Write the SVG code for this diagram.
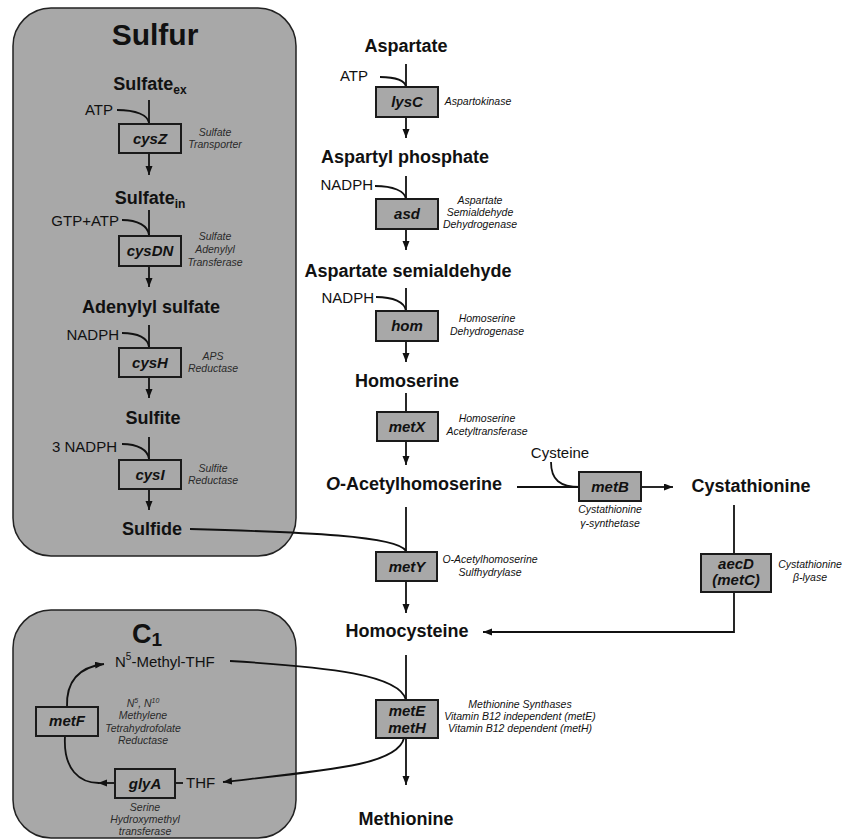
<svg xmlns="http://www.w3.org/2000/svg" width="842" height="840" viewBox="0 0 842 840">
<defs>
<marker id="ah" markerUnits="userSpaceOnUse" markerWidth="10" markerHeight="8" refX="9" refY="3.5" orient="auto">
<path d="M0,0 L9,3.5 L0,7 z" fill="#111"/>
</marker>
<style>
text{font-family:"Liberation Sans",Arial,sans-serif;fill:#111}
.node{font-weight:bold;font-size:18px;text-anchor:middle}
.gene{font-weight:bold;font-style:italic;font-size:15px;text-anchor:middle}
.enz{font-style:italic;font-size:10.5px;text-anchor:middle}
.enzs{font-style:italic;font-size:10.5px;text-anchor:middle;fill:#2a2a2a}
.cof{font-size:15px}
.box{fill:#a8a8a8;stroke:#1a1a1a;stroke-width:2}
.panel{fill:#a8a8a8;stroke:#222;stroke-width:1.5}
.ln{fill:none;stroke:#111;stroke-width:1.8}
.ar{fill:none;stroke:#111;stroke-width:1.8;marker-end:url(#ah)}
</style>
</defs>
<rect width="842" height="840" fill="#fff"/>

<g id="sulfur-panel">
<rect class="panel" x="13" y="8" width="283" height="548" rx="38"/>
<text x="155" y="45" style="font-weight:bold;font-size:30px;text-anchor:middle">Sulfur</text>
</g>
<g id="c1-panel">
<rect class="panel" x="13" y="610" width="283" height="228" rx="38"/>
<text x="147" y="643" style="font-weight:bold;font-size:27px;text-anchor:middle">C<tspan font-size="19" dy="3">1</tspan></text>
</g>

<g id="connectors">
<!-- sulfur column -->
<path class="ln" d="M149 100 V124"/>
<path class="ln" d="M117 110 C136 110 148 115 149 123"/>
<path class="ar" d="M149 153 V175"/>
<path class="ln" d="M149 210 V236"/>
<path class="ln" d="M122 220 C138 220 148 226 149 235"/>
<path class="ar" d="M149 266 V287"/>
<path class="ln" d="M149 325 V348"/>
<path class="ln" d="M122 333 C138 333 148 338 149 347"/>
<path class="ar" d="M149 377 V398"/>
<path class="ln" d="M149 437 V460"/>
<path class="ln" d="M122 444 C138 444 148 450 149 459"/>
<path class="ar" d="M149 489 V510"/>
<path class="ln" d="M190 529 C305 532 398 536 406 551"/>
<!-- main column -->
<path class="ln" d="M406 64 V87"/>
<path class="ln" d="M380 77 C396 77 405 81 406 87"/>
<path class="ar" d="M406 117 V138"/>
<path class="ln" d="M406 176 V199"/>
<path class="ln" d="M375 186 C393 186 405 191 406 199"/>
<path class="ar" d="M406 229 V250"/>
<path class="ln" d="M406 288 V311"/>
<path class="ln" d="M376 297 C393 297 405 302 406 311"/>
<path class="ar" d="M406 341 V362"/>
<path class="ln" d="M406 393 V412"/>
<path class="ar" d="M406 441 V465"/>
<path class="ln" d="M517 487 H580"/>
<path class="ln" d="M551 462 C551 480 560 487 580 487"/>
<path class="ar" d="M641 487 H673"/>
<path class="ln" d="M734 505 V554"/>
<path class="ar" d="M734 592 V632 H483"/>
<path class="ln" d="M406 507 V552"/>
<path class="ar" d="M406 581 V613"/>
<path class="ln" d="M406 655 V700"/>
<path class="ar" d="M406 738 V785"/>
<path class="ln" d="M230 661 C330 667 400 675 406 700"/>
<path class="ar" d="M404 738 C398 765 330 770 223 782"/>
<!-- C1 cycle -->
<path class="ar" d="M67 707 C66 680 80 667 104 664"/>
<path class="ln" d="M65 736 C63 770 80 783 99 783"/>
<path class="ar" d="M115 783 H98"/>
<path class="ln" d="M175 783 H183"/>
</g>

<g id="sulfate-ex"><text class="node" x="150" y="90">Sulfate<tspan font-size="12" dy="4">ex</tspan></text></g>
<g id="atp-1"><text class="cof" x="113" y="115" text-anchor="end">ATP</text></g>
<g id="cysZ"><rect class="box" x="119" y="124" width="62" height="29"/><text class="gene" x="150" y="144">cysZ</text>
<text class="enzs" x="215" y="136">Sulfate</text><text class="enzs" x="215" y="148">Transporter</text></g>
<g id="sulfate-in"><text class="node" x="150" y="204">Sulfate<tspan font-size="12" dy="4">in</tspan></text></g>
<g id="gtp-atp"><text class="cof" x="119" y="226" text-anchor="end">GTP+ATP</text></g>
<g id="cysDN"><rect class="box" x="119" y="236" width="62" height="30"/><text class="gene" x="150" y="256">cysDN</text>
<text class="enzs" x="215" y="240">Sulfate</text><text class="enzs" x="215" y="253">Adenylyl</text><text class="enzs" x="215" y="266">Transferase</text></g>
<g id="adenylyl-sulfate"><text class="node" x="151" y="313">Adenylyl sulfate</text></g>
<g id="nadph-s"><text class="cof" x="119" y="340" text-anchor="end">NADPH</text></g>
<g id="cysH"><rect class="box" x="119" y="348" width="62" height="29"/><text class="gene" x="150" y="368">cysH</text>
<text class="enzs" x="213" y="360">APS</text><text class="enzs" x="213" y="372">Reductase</text></g>
<g id="sulfite"><text class="node" x="153" y="424">Sulfite</text></g>
<g id="nadph3"><text class="cof" x="117" y="452" text-anchor="end">3 NADPH</text></g>
<g id="cysI"><rect class="box" x="119" y="460" width="62" height="29"/><text class="gene" x="150" y="480">cysI</text>
<text class="enzs" x="213" y="472">Sulfite</text><text class="enzs" x="213" y="484">Reductase</text></g>
<g id="sulfide"><text class="node" x="152" y="535">Sulfide</text></g>

<g id="aspartate"><text class="node" x="406" y="52">Aspartate</text></g>
<g id="atp-2"><text class="cof" x="368" y="81" text-anchor="end">ATP</text></g>
<g id="lysC"><rect class="box" x="376" y="87" width="62" height="30"/><text class="gene" x="407" y="107">lysC</text>
<text class="enz" x="478" y="105">Aspartokinase</text></g>
<g id="aspartyl-phosphate"><text class="node" x="405" y="163">Aspartyl phosphate</text></g>
<g id="nadph-1"><text class="cof" x="373" y="190" text-anchor="end">NADPH</text></g>
<g id="asd"><rect class="box" x="376" y="199" width="62" height="30"/><text class="gene" x="407" y="219">asd</text>
<text class="enz" x="480" y="204">Aspartate</text><text class="enz" x="480" y="216">Semialdehyde</text><text class="enz" x="480" y="228">Dehydrogenase</text></g>
<g id="aspartate-semialdehyde"><text class="node" x="408" y="277">Aspartate semialdehyde</text></g>
<g id="nadph-2"><text class="cof" x="374" y="303" text-anchor="end">NADPH</text></g>
<g id="hom"><rect class="box" x="376" y="311" width="62" height="30"/><text class="gene" x="407" y="331">hom</text>
<text class="enz" x="487" y="322">Homoserine</text><text class="enz" x="487" y="335">Dehydrogenase</text></g>
<g id="homoserine"><text class="node" x="407" y="387">Homoserine</text></g>
<g id="metX"><rect class="box" x="377" y="412" width="61" height="29"/><text class="gene" x="407" y="432">metX</text>
<text class="enz" x="487" y="422">Homoserine</text><text class="enz" x="487" y="435">Acetyltransferase</text></g>
<g id="o-acetylhomoserine"><text class="node" x="414" y="490"><tspan font-style="italic">O</tspan>-Acetylhomoserine</text></g>
<g id="cysteine"><text class="cof" x="560" y="458" text-anchor="middle">Cysteine</text></g>
<g id="metB"><rect class="box" x="579" y="472" width="62" height="29"/><text class="gene" x="610" y="492">metB</text>
<text class="enz" x="610" y="513">Cystathionine</text><text class="enz" x="610" y="527">γ-synthetase</text></g>
<g id="cystathionine"><text class="node" x="751" y="492">Cystathionine</text></g>
<g id="aecD"><rect class="box" x="701" y="554" width="70" height="38"/><text class="gene" x="736" y="569">aecD</text><text class="gene" x="736" y="585">(metC)</text>
<text class="enz" x="810" y="568">Cystathionine</text><text class="enz" x="810" y="581">β-lyase</text></g>
<g id="metY"><rect class="box" x="376" y="552" width="61" height="29"/><text class="gene" x="407" y="572">metY</text>
<text class="enz" x="490" y="563">O-Acetylhomoserine</text><text class="enz" x="490" y="576">Sulfhydrylase</text></g>
<g id="homocysteine"><text class="node" x="407" y="637">Homocysteine</text></g>
<g id="metE-metH"><rect class="box" x="376" y="700" width="62" height="38"/><text class="gene" x="407" y="716">metE</text><text class="gene" x="407" y="733">metH</text>
<text class="enz" x="520" y="708">Methionine Synthases</text><text class="enz" x="520" y="720">Vitamin B12 independent (metE)</text><text class="enz" x="520" y="732">Vitamin B12 dependent (metH)</text></g>
<g id="methionine"><text class="node" x="406" y="825" font-size="19">Methionine</text></g>

<g id="n5-methyl-thf"><text class="cof" x="115" y="667">N<tspan font-size="10" dy="-7">5</tspan><tspan dy="7">-Methyl-THF</tspan></text></g>
<g id="metF"><rect class="box" x="36" y="707" width="62" height="29"/><text class="gene" x="67" y="726">metF</text>
<text class="enzs" x="143" y="707">N<tspan font-size="7" dy="-4">5</tspan><tspan dy="4">, N</tspan><tspan font-size="7" dy="-4">10</tspan></text>
<text class="enzs" x="143" y="719">Methylene</text><text class="enzs" x="143" y="732">Tetrahydrofolate</text><text class="enzs" x="143" y="744">Reductase</text></g>
<g id="glyA"><rect class="box" x="115" y="769" width="60" height="29"/><text class="gene" x="145" y="789">glyA</text>
<text class="enzs" x="145" y="811">Serine</text><text class="enzs" x="145" y="823">Hydroxymethyl</text><text class="enzs" x="145" y="835">transferase</text></g>
<g id="thf"><text class="cof" x="186" y="788">THF</text></g>
</svg>
